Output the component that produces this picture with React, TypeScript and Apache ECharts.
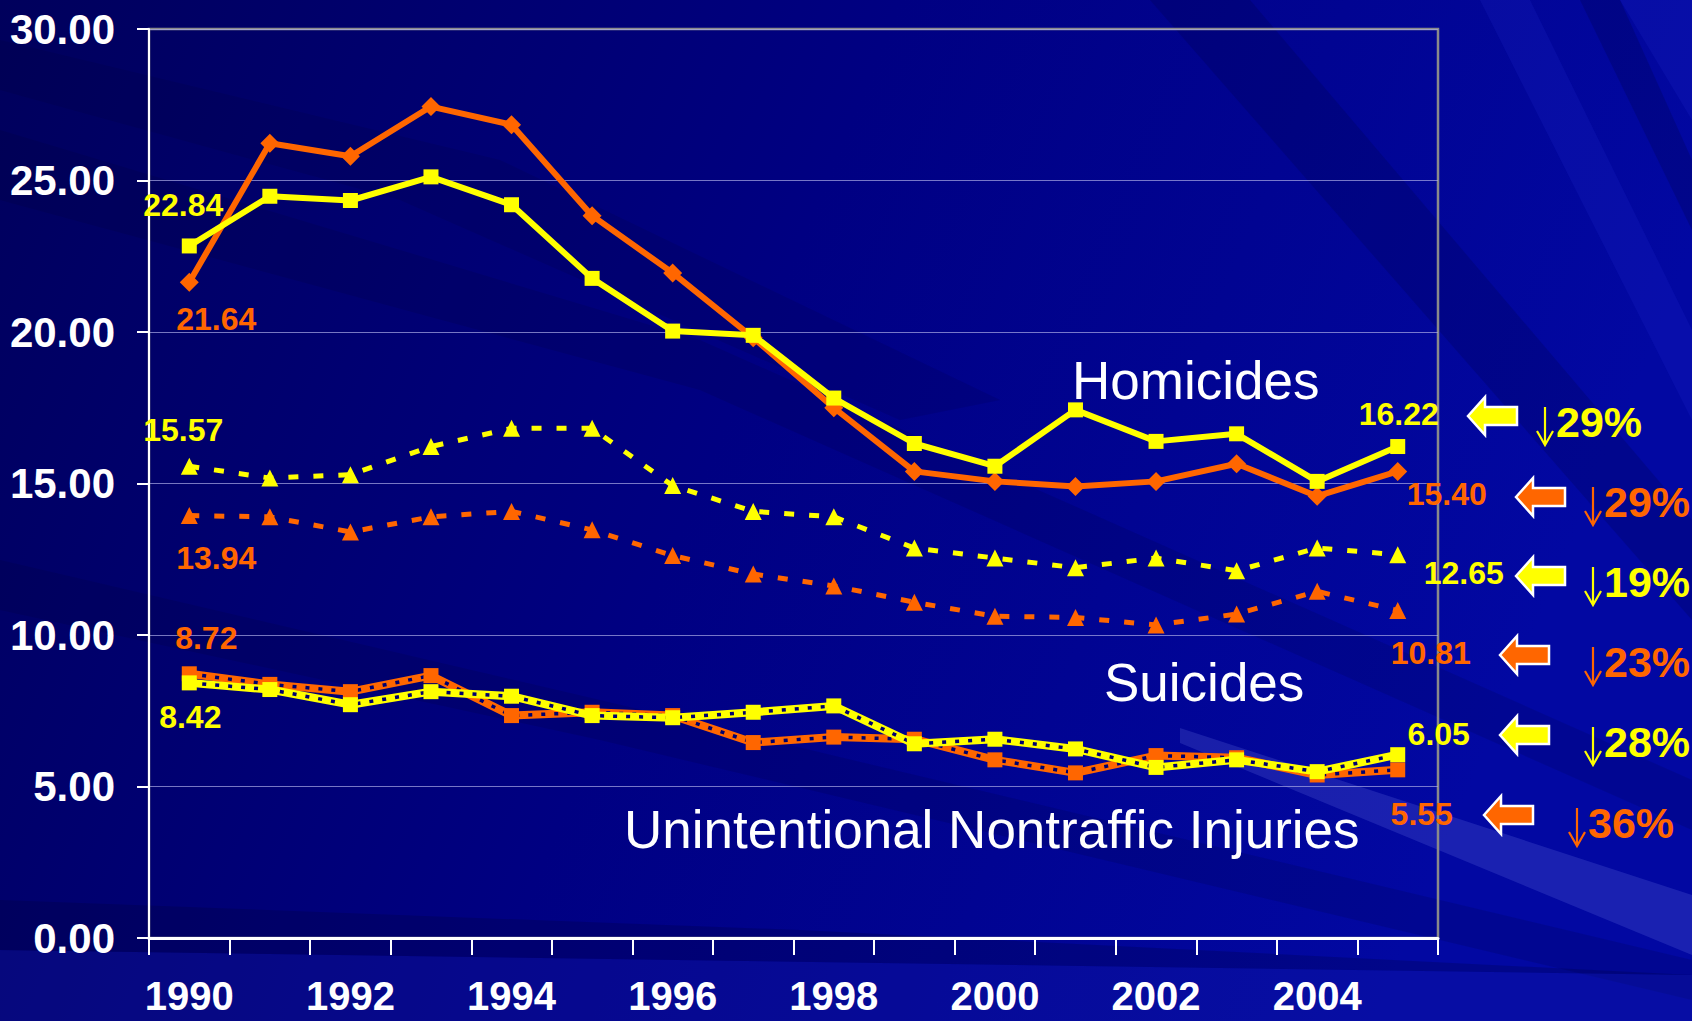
import React, { useEffect, useRef } from "react";
import * as echarts from "echarts";

const years = ["1990","1991","1992","1993","1994","1995","1996","1997","1998","1999","2000","2001","2002","2003","2004","2005"];
const homicidesYellow = [22.84, 24.48, 24.34, 25.12, 24.2, 21.77, 20.03, 19.89, 17.82, 16.32, 15.57, 17.43, 16.39, 16.64, 15.07, 16.22];
const homicidesOrange = [21.64, 26.23, 25.8, 27.44, 26.84, 23.84, 21.95, 19.81, 17.5, 15.4, 15.07, 14.9, 15.07, 15.65, 14.58, 15.4];
const suicidesYellow = [15.57, 15.18, 15.29, 16.22, 16.82, 16.82, 14.93, 14.08, 13.9, 12.87, 12.54, 12.22, 12.54, 12.12, 12.87, 12.65];
const suicidesOrange = [13.94, 13.9, 13.4, 13.9, 14.08, 13.47, 12.62, 12.01, 11.62, 11.08, 10.62, 10.58, 10.33, 10.69, 11.44, 10.81];
const injuriesYellow = [8.42, 8.2, 7.7, 8.13, 7.98, 7.34, 7.27, 7.45, 7.66, 6.41, 6.56, 6.24, 5.63, 5.88, 5.49, 6.05];
const injuriesOrange = [8.72, 8.37, 8.13, 8.66, 7.34, 7.45, 7.34, 6.45, 6.63, 6.56, 5.88, 5.45, 6.02, 5.95, 5.38, 5.55];
const yTicks = [0, 5, 10, 15, 20, 25, 30];
const categoryNames = ["Homicides", "Suicides", "Unintentional Nontraffic Injuries"];
const changes = ["29%", "29%", "19%", "23%", "28%", "36%"];

const YELLOW = "#FFFF00";
const ORANGE = "#FF6600";
const FONT = '"Liberation Sans", Arial, sans-serif';

function withEndLabels(values: number[], color: string, firstOff: number[], lastOff: number[]) {
  const lbl = (off: number[]) => ({
    show: true,
    position: "inside",
    offset: off,
    color,
    fontFamily: FONT,
    fontWeight: "bold",
    fontSize: 32,
    formatter: (p: any) => Number(p.value).toFixed(2),
  });
  return values.map((v, i) => {
    if (i === 0) return { value: v, label: lbl(firstOff) };
    if (i === values.length - 1) return { value: v, label: lbl(lastOff) };
    return v;
  });
}

function arrow(x: number, y: number, color: string) {
  return {
    type: "polygon",
    x,
    y,
    z: 20,
    shape: {
      points: [[0, 0], [17, -19], [17, -9], [49, -9], [49, 9], [17, 9], [17, 19]],
    },
    style: { fill: color, stroke: "#ffffff", lineWidth: 2.5 },
  };
}

function pct(ax: number, y: number, text: string, color: string) {
  return [
    {
      type: "line",
      z: 20,
      shape: { x1: ax, y1: y - 14, x2: ax, y2: y + 23 },
      style: { stroke: color, lineWidth: 2.2 },
    },
    {
      type: "polyline",
      z: 20,
      shape: { points: [[ax - 8, y + 10], [ax, y + 24], [ax + 8, y + 10]] },
      style: { stroke: color, lineWidth: 2.2, fill: null },
    },
    {
      type: "text",
      x: ax + 11,
      y: y + 1,
      z: 20,
      style: {
        text,
        fill: color,
        font: `bold 43px ${FONT}`,
        textAlign: "left",
        textVerticalAlign: "middle",
      },
    },
  ];
}

function catText(x: number, y: number, text: string) {
  return {
    type: "text",
    x,
    y,
    z: 20,
    style: {
      text,
      fill: "#ffffff",
      font: `normal 53px ${FONT}`,
      textAlign: "left",
      textVerticalAlign: "middle",
    },
  };
}

function band(points: number[][], fill: string) {
  return { type: "polygon", z: -10, silent: true, shape: { points }, style: { fill } };
}

export default function App() {
  const ref = useRef<HTMLDivElement>(null);
  useEffect(() => {
    if (!ref.current) return;
    const chart = echarts.init(ref.current, null, { renderer: "svg" });
    const lineBase = (name: string, data: any[], color: string, width: number, type: any, symbol: string, size: number, z: number) => ({
      name,
      type: "line",
      data,
      z,
      clip: false,
      symbol,
      symbolSize: size,
      showAllSymbol: true,
      itemStyle: { color },
      lineStyle: { color, width, type },
      emphasis: { disabled: true },
    });
    const overlay = (name: string, data: number[], z: number) => ({
      name,
      type: "line",
      data,
      z,
      symbol: "none",
      lineStyle: { color: "#00006e", width: 3.5, type: [4, 9] },
      emphasis: { disabled: true },
      silent: true,
    });
    chart.setOption({
      animation: false,
      backgroundColor: new echarts.graphic.LinearGradient(0, 0, 1, 0.25, [
        { offset: 0, color: "#00005c" },
        { offset: 0.5, color: "#000082" },
        { offset: 1, color: "#0208a2" },
      ]),
      grid: {
        left: 149,
        right: 254,
        top: 29,
        bottom: 83,
        show: true,
        borderColor: "#8a8a8a",
        borderWidth: 2.5,
        backgroundColor: "transparent",
      },
      xAxis: {
        type: "category",
        data: years,
        boundaryGap: true,
        axisLine: { lineStyle: { color: "#ffffff", width: 3 } },
        axisTick: { show: true, interval: 0, length: 17, lineStyle: { color: "#ffffff", width: 2 } },
        axisLabel: {
          interval: 1,
          color: "#ffffff",
          fontFamily: FONT,
          fontWeight: "bold",
          fontSize: 40,
          margin: 38,
          lineHeight: 40,
        },
        splitLine: { show: false },
      },
      yAxis: {
        type: "value",
        min: yTicks[0],
        max: yTicks[yTicks.length - 1],
        interval: 5,
        axisLine: { show: true, lineStyle: { color: "#ffffff", width: 2 } },
        axisTick: { show: true, length: 12, lineStyle: { color: "#ffffff", width: 2 } },
        axisLabel: {
          color: "#ffffff",
          fontFamily: FONT,
          fontWeight: "bold",
          fontSize: 42,
          margin: 34,
          formatter: (v: number) => v.toFixed(2),
        },
        splitLine: { show: true, lineStyle: { color: "rgba(170,170,230,0.7)", width: 1 } },
      },
      series: [
        lineBase("Homicides (orange)", withEndLabels(homicidesOrange, ORANGE, [27, 37], [49, 23]), ORANGE, 6, "solid", "diamond", 19, 3),
        lineBase("Homicides (yellow)", withEndLabels(homicidesYellow, YELLOW, [-6, -41], [1, -33]), YELLOW, 6, "solid", "rect", 15, 4),
        lineBase("Suicides (orange)", withEndLabels(suicidesOrange, ORANGE, [27, 42], [33, 43]), ORANGE, 5, [10, 15], "triangle", 17, 3),
        lineBase("Suicides (yellow)", withEndLabels(suicidesYellow, YELLOW, [-6, -36], [66, 18]), YELLOW, 5, [10, 15], "triangle", 17, 4),
        lineBase("Injuries (orange)", withEndLabels(injuriesOrange, ORANGE, [17, -36], [24, 44]), ORANGE, 8, "solid", "rect", 15, 3),
        overlay("Injuries (orange) dots", injuriesOrange, 3),
        lineBase("Injuries (yellow)", withEndLabels(injuriesYellow, YELLOW, [1, 34], [41, -21]), YELLOW, 8, "solid", "rect", 15, 4),
        overlay("Injuries (yellow) dots", injuriesYellow, 4),
      ],
      graphic: [
        band([[0, 130], [700, 340], [1692, 780], [1692, 830], [700, 390], [0, 200]], "rgba(0,0,40,0.13)"),
        band([[0, 40], [500, 160], [1000, 400], [900, 420], [400, 200], [0, 90]], "rgba(0,0,40,0.12)"),
        band([[0, 560], [600, 700], [1692, 960], [1692, 1000], [600, 740], [0, 610]], "rgba(0,0,40,0.14)"),
        band([[0, 950], [1692, 975], [1692, 1021], [0, 1021]], "rgba(20,30,170,0.28)"),
        band([[0, 900], [800, 930], [1692, 975], [0, 950]], "rgba(0,0,40,0.2)"),
        band([[1150, 0], [1250, 0], [1692, 520], [1692, 620]], "rgba(0,0,50,0.18)"),
        band([[1480, 0], [1530, 0], [1692, 330], [1692, 420]], "rgba(50,60,230,0.14)"),
        band([[1580, 0], [1620, 0], [1692, 160], [1692, 230]], "rgba(0,0,50,0.2)"),
        band([[1620, 0], [1692, 0], [1692, 120]], "rgba(50,60,230,0.14)"),
        band([[1180, 728], [1692, 895], [1692, 955], [1180, 743]], "rgba(150,160,255,0.17)"),
        catText(1072, 380, categoryNames[0]),
        catText(1104, 682, categoryNames[1]),
        catText(624, 829, categoryNames[2]),
        arrow(1468, 416, YELLOW),
        arrow(1516, 497, ORANGE),
        arrow(1516, 576, YELLOW),
        arrow(1500, 655, ORANGE),
        arrow(1500, 735, YELLOW),
        arrow(1484, 815, ORANGE),
        ...pct(1545, 421, changes[0], YELLOW),
        ...pct(1593, 501, changes[1], ORANGE),
        ...pct(1593, 581, changes[2], YELLOW),
        ...pct(1593, 661, changes[3], ORANGE),
        ...pct(1593, 741, changes[4], YELLOW),
        ...pct(1577, 822, changes[5], ORANGE),
      ],
    });
    return () => chart.dispose();
  }, []);
  return (
    <div
      ref={ref}
      style={{ position: "fixed", left: 0, top: 0, width: 1692, height: 1021 }}
    />
  );
}
